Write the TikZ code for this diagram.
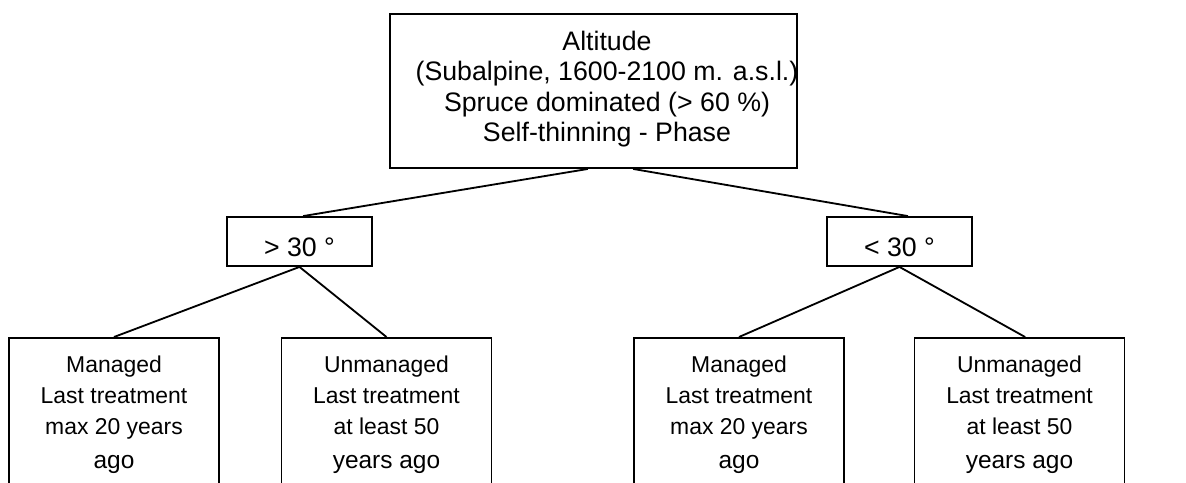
\documentclass[tikz,border=0pt]{standalone}
\usepackage{fontspec}
\setmainfont{Liberation Sans}
\newcommand{\agosize}{\fontsize{17.4}{22}\selectfont}

\begin{document}
\begin{tikzpicture}[x=0.025cm, y=-0.025cm, line width=1.3pt,
        box/.style={draw, inner sep=0pt},
        slope/.style={box, minimum width=3.625cm, minimum height=1.225cm,
                      text height=0.725cm, text depth=0pt,
                      font=\fontsize{19}{22}\selectfont},
        leaf/.style={box, anchor=north, align=center, minimum width=5.25cm,
                     minimum height=3.85cm, font=\fontsize{16.3}{22}\selectfont}]
    \useasboundingbox (0,0) rectangle (1186,482);
    \clip (0,0) rectangle (1186,482);

    \node[box, minimum width=10.175cm, minimum height=3.85cm] (altitude) at (593.5,91) {};
    \node[align=center, font=\fontsize{19}{21.5}\selectfont] (site) at (607,89)
        {Altitude\\(Subalpine, 1600-2100 m. a.s.l.)\\Spruce dominated (> 60 \%)\\Self-thinning - Phase};

    \node[slope] (steep) at (299.5,241.5) {> 30 °};
    \node[slope] (gentle) at (899.5,241.5) {< 30 °};

    \foreach[count=\i] \xpos/\kind/\since/\ago in {114/Managed/max 20 years/ago,
                                                   386.5/Unmanaged/at least 50/years ago,
                                                   739/Managed/max 20 years/ago,
                                                   1019.5/Unmanaged/at least 50/years ago}{
        \node[leaf] (leaf\i) at (\xpos,337) {\kind\\Last treatment\\\since\\[2pt]{\agosize\ago}};
    }

    \draw ([xshift=-0.14cm]altitude.south) -- ([xshift=0.09cm]steep.north);
    \draw ([xshift=0.99cm]altitude.south) -- ([xshift=0.21cm]gentle.north);
    \draw (steep.south) -- (leaf1.north);
    \draw (steep.south) -- (leaf2.north);
    \draw (gentle.south) -- (leaf3.north);
    \draw (gentle.south) -- ([xshift=0.14cm]leaf4.north);
\end{tikzpicture}
\end{document}
